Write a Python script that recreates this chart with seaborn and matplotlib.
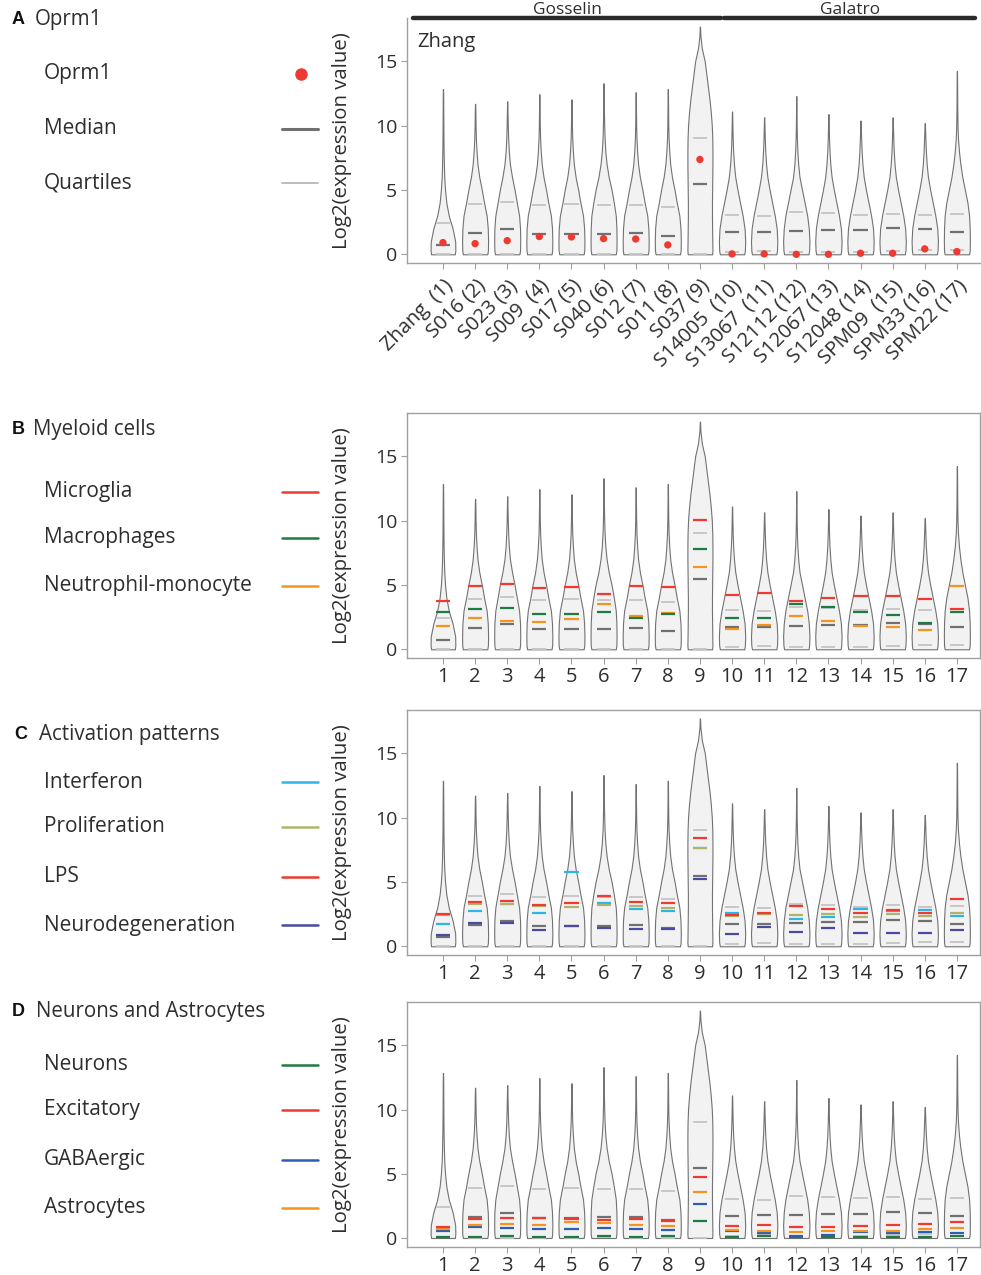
import numpy as np
import matplotlib
matplotlib.use("Agg")
import matplotlib.pyplot as plt
import seaborn as sns
from matplotlib.lines import Line2D
from matplotlib.transforms import blended_transform_factory

# ---- data ----
sample_names = ["Zhang  (1)", "S016 (2)", "S023 (3)", "S009  (4)", "S017 (5)",
                "S040 (6)", "S012 (7)", "S011 (8)", "S037 (9)", "S14005  (10)",
                "S13067  (11)", "S12112 (12)", "S12067 (13)", "S12048 (14)",
                "SPM09  (15)", "SPM33 (16)", "SPM22 (17)"]
sample_numbers = [str(i) for i in range(1, 18)]

# violin outline: top of the tail and half-width at each profile level
violin_max = [12.85, 11.7, 11.9, 12.45, 12.05, 13.3, 12.6, 12.85, 17.7,
              11.1, 10.65, 12.3, 10.9, 10.4, 10.65, 10.2, 14.25]
profile_levels = [0, 0.3, 1, 2, 3, 4, 5, 6, 7, 8, 9, 10, 11, 12, 13, 14, 15, 16, 17]
violin_widths = [
    [0.37, 0.385, 0.38, 0.30, 0.18, 0.105, 0.065, 0.04, 0.028, 0.02, 0.015, 0.012, 0.01, 0.008],
    [0.38, 0.40, 0.405, 0.395, 0.36, 0.28, 0.21, 0.13, 0.075, 0.045, 0.025, 0.015, 0.01],
    [0.38, 0.40, 0.405, 0.40, 0.37, 0.30, 0.23, 0.15, 0.085, 0.05, 0.03, 0.018, 0.01],
    [0.38, 0.40, 0.405, 0.395, 0.36, 0.28, 0.21, 0.13, 0.075, 0.045, 0.025, 0.015, 0.01, 0.007],
    [0.38, 0.40, 0.405, 0.395, 0.36, 0.28, 0.21, 0.13, 0.075, 0.045, 0.025, 0.015, 0.01, 0.007],
    [0.38, 0.40, 0.405, 0.40, 0.38, 0.32, 0.25, 0.16, 0.095, 0.055, 0.032, 0.02, 0.012, 0.008],
    [0.38, 0.40, 0.405, 0.395, 0.36, 0.28, 0.21, 0.13, 0.075, 0.045, 0.025, 0.015, 0.01, 0.007],
    [0.38, 0.40, 0.405, 0.395, 0.36, 0.28, 0.21, 0.13, 0.075, 0.045, 0.025, 0.015, 0.01, 0.007],
    [0.38, 0.39, 0.385, 0.38, 0.375, 0.375, 0.38, 0.385, 0.39, 0.39, 0.385, 0.37, 0.34, 0.30,
     0.25, 0.20, 0.15, 0.06, 0.015],
    [0.38, 0.40, 0.41, 0.39, 0.33, 0.25, 0.17, 0.10, 0.06, 0.035, 0.02, 0.012],
    [0.38, 0.40, 0.41, 0.39, 0.33, 0.25, 0.17, 0.10, 0.06, 0.035, 0.02],
    [0.38, 0.40, 0.41, 0.39, 0.34, 0.26, 0.18, 0.10, 0.06, 0.035, 0.02, 0.012, 0.008],
    [0.38, 0.40, 0.41, 0.39, 0.33, 0.25, 0.17, 0.10, 0.06, 0.035, 0.02],
    [0.38, 0.40, 0.41, 0.39, 0.33, 0.25, 0.17, 0.10, 0.06, 0.035, 0.02],
    [0.38, 0.40, 0.41, 0.39, 0.33, 0.25, 0.17, 0.10, 0.06, 0.035, 0.02],
    [0.38, 0.40, 0.41, 0.39, 0.33, 0.25, 0.17, 0.10, 0.06, 0.035, 0.02],
    [0.38, 0.40, 0.405, 0.40, 0.38, 0.33, 0.25, 0.17, 0.11, 0.065, 0.035, 0.02, 0.014, 0.01, 0.008],
]

median = [0.73, 1.67, 1.97, 1.56, 1.58, 1.60, 1.65, 1.40, 5.47, 1.73, 1.76, 1.83,
          1.88, 1.88, 2.04, 1.97, 1.70]
quart_hi = [2.41, 3.90, 4.07, 3.80, 3.90, 3.85, 3.80, 3.64, 9.03, 3.04, 2.98, 3.25,
            3.19, 3.08, 3.17, 3.04, 3.11]
quart_lo = [0.04, 0.03, 0.03, 0.03, 0.03, 0.04, 0.03, 0.03, 0.03, 0.19, 0.29, 0.15,
            0.20, 0.15, 0.22, 0.32, 0.36]

oprm1 = [0.91, 0.83, 1.06, 1.38, 1.35, 1.22, 1.19, 0.73, 7.37, 0.03, 0.03, 0.0,
         0.0, 0.08, 0.08, 0.42, 0.21]

microglia = [3.74, 4.96, 5.09, 4.78, 4.88, 4.32, 4.96, 4.83, 10.03, 4.19, 4.37, 3.75,
             3.98, 4.16, 4.13, 3.90, 3.15]
macrophages = [2.92, 3.13, 3.20, 2.74, 2.74, 2.87, 2.45, 2.74, 7.80, 2.45, 2.43, 3.54,
               3.31, 2.89, 2.66, 2.07, 2.89]
neutrophil = [1.78, 2.43, 2.22, 2.09, 2.35, 3.51, 2.56, 2.82, 6.41, 1.58, 1.89, 2.56,
              2.20, 1.80, 1.73, 1.52, 4.91]

interferon = [1.72, 2.71, 3.30, 2.58, 5.75, 3.33, 2.89, 2.76, 7.60, 2.61, 2.50, 2.14,
              2.27, 2.86, 2.71, 2.78, 2.37]
proliferation = [2.42, 3.25, 3.25, 3.12, 3.02, 3.22, 3.09, 2.96, 7.66, 2.32, 2.47, 2.45,
                 2.47, 2.27, 2.53, 2.35, 2.58]
lps = [2.53, 3.45, 3.50, 3.22, 3.40, 3.87, 3.45, 3.40, 8.38, 2.45, 2.61, 3.09,
       2.86, 2.61, 2.84, 2.58, 3.71]
neurodegeneration = [0.85, 1.78, 1.83, 1.29, 1.60, 1.42, 1.37, 1.37, 5.26, 0.95, 1.52, 1.08,
                     1.39, 1.03, 1.03, 1.06, 1.26]

neurons = [0.10, 0.05, 0.18, 0.10, 0.08, 0.13, 0.10, 0.13, 1.32, 0.10, 0.13, 0.04,
           0.08, 0.10, 0.07, 0.10, 0.16]
excitatory = [0.88, 1.50, 1.56, 1.52, 1.50, 1.37, 1.50, 1.32, 4.75, 0.96, 0.98, 0.86,
              0.86, 0.91, 1.00, 1.11, 1.22]
gabaergic = [0.55, 0.88, 0.78, 0.70, 0.73, 0.78, 0.73, 0.65, 2.65, 0.52, 0.42, 0.18,
             0.23, 0.45, 0.40, 0.49, 0.36]
astrocytes = [0.70, 1.01, 1.12, 1.01, 1.22, 1.17, 0.98, 0.96, 3.60, 0.62, 0.52, 0.49,
              0.52, 0.54, 0.57, 0.70, 0.78]

# dataset groups above panel A (sample span in x units)
groups = [("Gosselin", -0.93, 8.66), ("Galatro", 8.76, 16.57)]

# ---- colours ----
RED = "#ee3a30"
GREEN = "#1f7a43"
ORANGE = "#f7941d"
CYAN = "#2fb4e6"
OLIVE = "#b2b26a"
INDIGO = "#4a4a9e"
BLUE = "#2e5cb8"
MED_GRAY = "#707070"
Q_GRAY = "#c4c4c4"
TXT = "#2e2e2e"
SPINE = "#a0a0a0"

sns.set_style("ticks")
plt.rcParams["font.family"] = ["Open Sans", "DejaVu Sans"]

W, H = 981, 1275
fig = plt.figure(figsize=(W / 100, H / 100), dpi=100)

positions = np.arange(len(sample_names))


def add_axes_px(top, bottom):
    left, right = 407, 980
    return fig.add_axes([left / W, 1 - bottom / H, (right - left) / W, (bottom - top) / H])


def draw_violins(ax):
    for pos, top, widths in zip(positions, violin_max, violin_widths):
        levels = [y for y in profile_levels if y < top][:len(widths)]
        ys = np.array(levels + [top])
        ws = np.array(widths[:len(levels)] + [0.004])
        ax.fill_betweenx(ys, pos - ws, pos + ws, facecolor="#f2f2f2",
                         edgecolor="#727272", linewidth=0.8, zorder=1)
    hw = 0.22
    ax.hlines(quart_lo, positions - hw, positions + hw, colors=Q_GRAY, lw=1.3, zorder=2)
    ax.hlines(quart_hi, positions - hw, positions + hw, colors=Q_GRAY, lw=1.3, zorder=2)
    ax.hlines(median, positions - hw, positions + hw, colors=MED_GRAY, lw=1.6, zorder=2)


def style_axes(ax, labels, rotate=False):
    ax.set_xlim(-1.12, 16.72)
    ax.set_ylim(-0.7, 18.35)
    ax.set_yticks([0, 5, 10, 15])
    ax.set_xticks(positions)
    ax.tick_params(axis="both", length=4, width=0.8, color=SPINE, labelcolor=TXT,
                   labelsize=14)
    ax.tick_params(axis="y", pad=3)
    ax.tick_params(axis="x", pad=2.5)
    if rotate:
        ax.set_xticklabels(labels, rotation=45, ha="right", rotation_mode="anchor",
                           fontsize=14.5)
    else:
        ax.set_xticklabels(labels, fontsize=14.5)
    ax.set_ylabel("Log2(expression value)", fontsize=14.7, color=TXT)
    ax.yaxis.set_label_coords(-0.096, 0.5)
    ax.set_xlabel("")
    for sp in ax.spines.values():
        sp.set_color(SPINE)
        sp.set_linewidth(1.0)
    ax.set_facecolor("white")


def add_marks(ax, series):
    hw = 0.22
    for values, color in series:
        ax.hlines(values, positions - hw, positions + hw, colors=color, lw=1.6, zorder=3)


# ---- panel A ----
axA = add_axes_px(18.3, 263.3)
draw_violins(axA)
sns.scatterplot(x=positions, y=oprm1, color=RED, s=28, edgecolor="none",
                zorder=5, ax=axA, legend=False)
style_axes(axA, sample_names, rotate=True)
axA.tick_params(axis="x", pad=5)
sns.despine(ax=axA)
axA.text(0.018, 0.905, "Zhang", transform=axA.transAxes, fontsize=14.5, color=TXT,
         ha="left", va="center")
trans = blended_transform_factory(axA.transData, axA.transAxes)
for name, x0, x1 in groups:
    axA.add_line(Line2D([x0, x1], [1.0, 1.0], transform=trans, color="#2a2a2a", lw=3.2,
                        solid_capstyle="round", clip_on=False))
    axA.text((x0 + x1) / 2, 1.016, name, transform=trans, ha="center", va="baseline",
             fontsize=12.5, color=TXT, clip_on=False)

# ---- panel B ----
axB = add_axes_px(413.3, 658.3)
draw_violins(axB)
add_marks(axB, [(neutrophil, ORANGE), (macrophages, GREEN), (microglia, RED)])
style_axes(axB, sample_numbers)

# ---- panel C ----
axC = add_axes_px(710, 955.3)
draw_violins(axC)
add_marks(axC, [(interferon, CYAN), (proliferation, OLIVE), (lps, RED),
                (neurodegeneration, INDIGO)])
style_axes(axC, sample_numbers)

# ---- panel D ----
axD = add_axes_px(1002.3, 1247)
draw_violins(axD)
add_marks(axD, [(neurons, GREEN), (gabaergic, BLUE), (astrocytes, ORANGE), (excitatory, RED)])
style_axes(axD, sample_numbers)


# ---- left-hand legends ----
def ftext(x, y, s, **kw):
    fig.text(x / W, 1 - y / H, s, va="center", ha="left", color=TXT, **kw)


def fline(y, color, lw=1.8):
    fig.add_artist(Line2D([282 / W, 318 / W], [1 - y / H] * 2, transform=fig.transFigure,
                          color=color, lw=lw))


panel_titles = [("A", "Oprm1", 12, 35, 20), ("B", "Myeloid cells", 12, 33, 430),
                ("C", "Activation patterns", 14, 39, 735),
                ("D", "Neurons and Astrocytes", 12, 36, 1012)]
for letter, title, xl, xt, y in panel_titles:
    fig.text(xl / W, 1 - y / H, letter, va="center", ha="left", fontsize=13,
             fontweight="bold", color="#111111", family=["Liberation Sans", "DejaVu Sans"])
    ftext(xt, y, title, fontsize=14.8)

legend_items = [
    ("Oprm1", "dot", 74), ("Median", MED_GRAY, 129), ("Quartiles", "quart", 183),
    ("Microglia", RED, 492), ("Macrophages", GREEN, 538),
    ("Neutrophil-monocyte", ORANGE, 586),
    ("Interferon", CYAN, 782), ("Proliferation", OLIVE, 827), ("LPS", RED, 877),
    ("Neurodegeneration", INDIGO, 925),
    ("Neurons", GREEN, 1065), ("Excitatory", RED, 1110), ("GABAergic", BLUE, 1160),
    ("Astrocytes", ORANGE, 1208),
]
for label, color, y in legend_items:
    ftext(44, y, label, fontsize=15)
    if color == "dot":
        fig.add_artist(Line2D([301 / W], [1 - y / H], transform=fig.transFigure,
                              marker="o", markersize=8, color=RED, lw=0))
    elif color == "quart":
        fline(y, "#b0b0b0", lw=1.2)
    elif color == MED_GRAY:
        fline(y, color, lw=2.2)
    else:
        fline(y, color)

fig.savefig("out.png", dpi=100)
